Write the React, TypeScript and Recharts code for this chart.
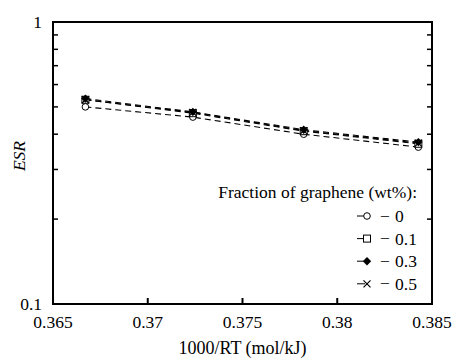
import React from 'react';
import { LineChart, Line, XAxis, YAxis, ReferenceArea, Legend } from 'recharts';

// 1000/RT (mol/kJ) for 55, 50, 45, 40 °C
const xValues = [0.36671, 0.37238, 0.37823, 0.38428];
const esrG0 = [0.5, 0.46, 0.4, 0.36];
const esrG01 = [0.53, 0.475, 0.41, 0.37];
const esrG03 = [0.535, 0.48, 0.415, 0.375];
const esrG05 = [0.53, 0.478, 0.412, 0.372];
const seriesLabels = ['0', '0.1', '0.3', '0.5'];
const xTicks = [0.365, 0.37, 0.375, 0.38, 0.385];
const yTicks = [0.1, 0.2, 0.3, 0.4, 0.5, 0.6, 0.7, 0.8, 0.9, 1];
const yLabelled = [0.1, 1];

const FONT = "'Liberation Serif', 'Times New Roman', Times, serif";
const FS = 17.5;

const data = xValues.map((x, i) => ({
  x,
  g0: esrG0[i],
  g01: esrG01[i],
  g03: esrG03[i],
  g05: esrG05[i],
}));

type Shape = 'circle' | 'square' | 'diamond' | 'cross';

const series: { key: string; shape: Shape; label: string }[] = [
  { key: 'g0', shape: 'circle', label: seriesLabels[0] },
  { key: 'g01', shape: 'square', label: seriesLabels[1] },
  { key: 'g03', shape: 'diamond', label: seriesLabels[2] },
  { key: 'g05', shape: 'cross', label: seriesLabels[3] },
];

function Marker({ shape, cx, cy }: { shape: Shape; cx: number; cy: number }) {
  const s = 3.5;
  switch (shape) {
    case 'circle':
      return <circle cx={cx} cy={cy} r={3.3} fill="#fff" stroke="#000" strokeWidth={1} />;
    case 'square':
      return <rect x={cx - s} y={cy - s} width={2 * s} height={2 * s} fill="#fff" stroke="#000" strokeWidth={1} />;
    case 'diamond':
      return (
        <polygon
          points={`${cx},${cy - 4.2} ${cx + 4.2},${cy} ${cx},${cy + 4.2} ${cx - 4.2},${cy}`}
          fill="#000"
        />
      );
    default:
      return (
        <path
          d={`M${cx - s},${cy - s}L${cx + s},${cy + s}M${cx - s},${cy + s}L${cx + s},${cy - s}`}
          stroke="#000"
          strokeWidth={1.2}
        />
      );
  }
}

const textStyle = { fontFamily: FONT, fill: '#000' } as React.CSSProperties;

function LegendBox() {
  return (
    <svg width={200} height={125} style={{ display: 'block', overflow: 'visible' }}>
      <text x={197} y={28} textAnchor="end" fontSize={FS} style={textStyle}>
        Fraction of graphene (wt%):
      </text>
      {series.map((r, i) => {
        const cy = 46 + i * 22.6;
        return (
          <g key={r.key}>
            <line x1={137} x2={145} y1={cy} y2={cy} stroke="#000" strokeWidth={1} />
            <Marker shape={r.shape} cx={147} cy={cy} />
            <text x={165} y={cy + 5.5} textAnchor="middle" fontSize={FS} style={textStyle}>
              −
            </text>
            <text x={175} y={cy + 6} fontSize={FS} style={textStyle}>
              {r.label}
            </text>
          </g>
        );
      })}
    </svg>
  );
}

const tickStyle = { fill: '#000', fontFamily: FONT, fontSize: FS };

export default function App() {
  return (
    <div style={{ position: 'absolute', left: 0, top: 0, width: 452, height: 358, background: '#fff', fontFamily: FONT }}>
      <LineChart
        width={452}
        height={358}
        data={data}
        margin={{ top: 22, right: 10, bottom: 14, left: 13 }}
        style={{ fontFamily: FONT }}
      >
        <XAxis
          dataKey="x"
          type="number"
          domain={[0.365, 0.385]}
          ticks={xTicks}
          interval={0}
          allowDataOverflow
          height={40}
          tickSize={-6}
          tickMargin={18}
          tick={tickStyle}
          tickFormatter={(v: number) => String(v)}
          axisLine={{ stroke: '#000', strokeWidth: 2 }}
          tickLine={{ stroke: '#000', strokeWidth: 2 }}
          label={{
            content: () => (
              <text x={242.5} y={354} textAnchor="middle" fontSize={18} style={textStyle}>
                1000/RT (mol/kJ)
              </text>
            ),
          }}
        />
        <YAxis
          yAxisId="left"
          type="number"
          scale="log"
          domain={[0.1, 1]}
          ticks={yTicks}
          interval={0}
          allowDataOverflow
          width={40}
          tickSize={-5}
          tickMargin={16}
          tick={tickStyle}
          tickFormatter={(v: number) => (yLabelled.includes(v) ? String(v) : '')}
          axisLine={{ stroke: '#000', strokeWidth: 2 }}
          tickLine={{ stroke: '#000', strokeWidth: 1.5 }}
          label={{
            content: () => (
              <text
                x={19}
                y={156}
                transform="rotate(-90 19 156)"
                textAnchor="middle"
                dominantBaseline="central"
                fontStyle="italic"
                fontSize={FS}
                style={textStyle}
              >
                ESR
              </text>
            ),
          }}
        />
        <YAxis
          yAxisId="right"
          orientation="right"
          type="number"
          scale="log"
          domain={[0.1, 1]}
          ticks={yTicks}
          interval={0}
          allowDataOverflow
          width={10}
          tickSize={-5}
          tickMargin={0}
          tick={tickStyle}
          tickFormatter={() => ''}
          axisLine={{ stroke: '#000', strokeWidth: 2 }}
          tickLine={{ stroke: '#000', strokeWidth: 1.5 }}
        />
        <ReferenceArea
          yAxisId="left"
          x1={0.365}
          x2={0.385}
          y1={0.1}
          y2={1}
          fill="none"
          stroke="#000"
          strokeWidth={2}
          ifOverflow="visible"
        />
        {series.map((s) => (
          <Line
            key={s.key}
            yAxisId="left"
            dataKey={s.key}
            type="linear"
            stroke="#000"
            strokeWidth={1.1}
            strokeDasharray="6 4"
            isAnimationActive={false}
            dot={(p: any) => <Marker key={`${s.key}-${p.index}`} shape={s.shape} cx={p.cx} cy={p.cy} />}
          />
        ))}
        <Legend
          layout="vertical"
          align="center"
          verticalAlign="middle"
          wrapperStyle={{ left: 220, top: 170, width: 200, height: 125 }}
          content={() => <LegendBox />}
        />
      </LineChart>
    </div>
  );
}
